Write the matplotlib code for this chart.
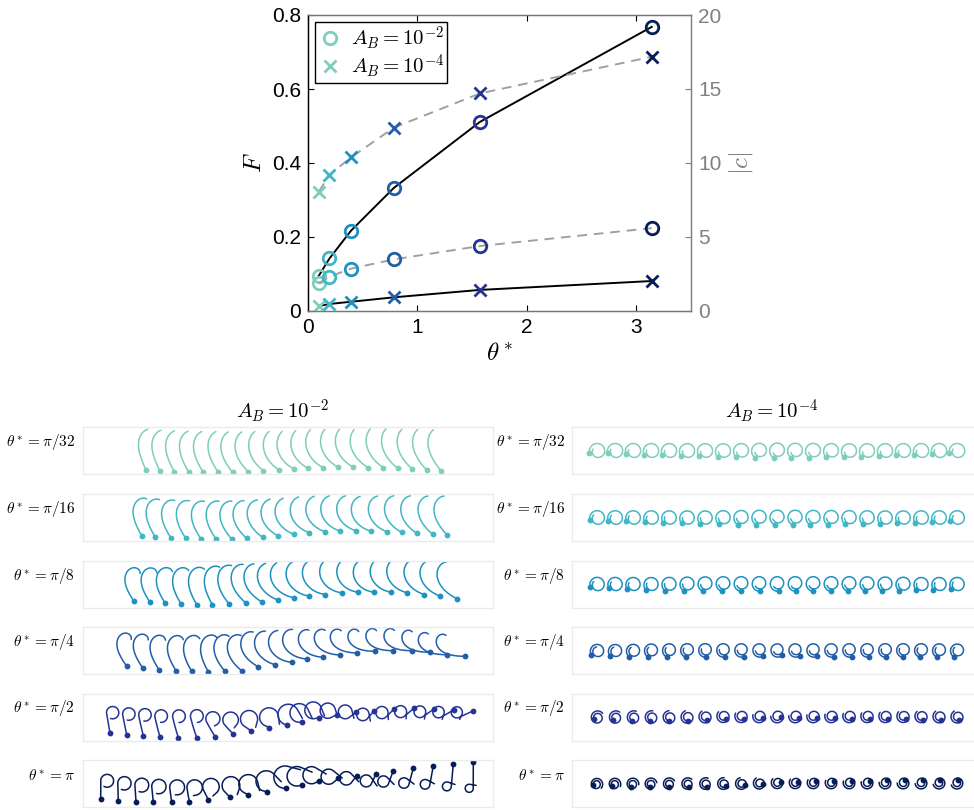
import numpy as np
import matplotlib
matplotlib.use('Agg')
import matplotlib.pyplot as plt
from matplotlib.lines import Line2D

plt.rcParams['mathtext.fontset'] = 'cm'
plt.rcParams['font.family'] = ['Liberation Sans', 'DejaVu Sans']

# ---------------- data: top plot ----------------
theta_star = [np.pi/32, np.pi/16, np.pi/8, np.pi/4, np.pi/2, np.pi]
theta_labels = [r'$\theta^* = \pi/32$', r'$\theta^* = \pi/16$', r'$\theta^* = \pi/8$',
                r'$\theta^* = \pi/4$', r'$\theta^* = \pi/2$', r'$\theta^* = \pi$']
F_AB2 = [0.095, 0.142, 0.217, 0.333, 0.511, 0.768]
c_AB2 = [1.87, 2.32, 2.86, 3.49, 4.39, 5.60]
F_AB4 = [0.0135, 0.019, 0.025, 0.037, 0.057, 0.081]
c_AB4 = [8.06, 9.19, 10.38, 12.39, 14.70, 17.18]
row_colors = ['#7fcdbb', '#41b6c4', '#1d91c0', '#225ea8', '#253494', '#081d58']
legend_labels = [r'$A_B = 10^{-2}$', r'$A_B = 10^{-4}$']

# ---------------- data: filament snapshots (A_B = 1e-2) ----------------
snap_x_AB2 = [
    [146, 160, 174.3, 188.7, 203.3, 218.3, 232.7, 248.3, 263.3, 279.3, 294.3, 308.3, 323.3, 338.3, 353.3, 368.3, 383.3, 397.7, 412.3, 426.7, 441],
    [141.7, 155, 170.7, 185.7, 201, 216, 231.7, 246.7, 262.7, 278.3, 294, 309.3, 325, 340, 356, 370.7, 386.7, 401.7, 416.7, 432.7, 447.3],
    [134, 150, 165, 181, 196.7, 212.3, 229, 245.7, 261.7, 278.3, 294.3, 309.3, 325, 341.7, 358.3, 374.3, 391, 407.3, 424.3, 440, 456.7],
    [126.7, 142.7, 159, 176, 191.7, 208.3, 225, 241.7, 258.3, 275, 291.7, 306.7, 323.3, 340, 356.7, 375, 393.3, 411.7, 430, 446.7, 465],
    [110, 126.7, 143.3, 160, 178.3, 196.7, 215, 233.3, 251, 269.3, 286.5, 301.7, 319.3, 336.7, 356, 374.3, 394.3, 414, 434.3, 454, 473.3],
    [100.7, 118.3, 136, 153.3, 171.7, 189.3, 208.3, 230, 248.3, 266.7, 286, 301.7, 319.3, 338.3, 356.7, 376, 393.3, 413.3, 433.3, 453.3, 473.3],
]
snap_y_AB2 = [
    [4, 3, 2.3, 2, 1.7, 1.7, 1.7, 2.3, 3.3, 4, 5, 5.7, 6.3, 6.7, 6.7, 6.3, 6.3, 5.7, 4.7, 4, 3.3],
    [5.3, 4.3, 3.3, 2.7, 2, 2, 2, 2.7, 3.7, 5, 6.7, 8.3, 9.3, 10, 10.3, 10, 9.3, 8.7, 7.7, 6.7, 6],
    [6.3, 5.3, 4.7, 3.7, 3, 3, 3.7, 4.7, 5.7, 7.3, 9.7, 11.3, 13, 14.7, 15.3, 15.3, 15.3, 14.7, 13, 11.3, 9],
    [7.7, 6, 4.3, 3.3, 2.7, 2.3, 2.7, 3.3, 7.3, 9.3, 11.7, 15, 16.7, 19, 21, 22.7, 23.3, 23.3, 21.7, 19.3, 17.7],
    [7.3, 5.7, 4.7, 3.3, 3, 3, 4, 6.3, 9.7, 13, 15.7, 18.3, 23, 25.7, 28.3, 30, 31.7, 32.3, 31.7, 30.7, 29.7],
    [8, 6.3, 5.3, 4.7, 4.7, 5.3, 7.3, 9.7, 12, 15.3, 18.7, 22, 26.3, 28.7, 31.3, 33, 36.3, 38.7, 41.3, 43, 44.7],
]
# shape keyframes: (base tangent angle, uniform bend, curl [deg], curl start, curl end)
key_idx = [0, 5, 10, 15, 20]
shape_AB2 = [
    [(115, -15, -85, 0, 1), (125, -30, -70, 0, 1), (155, -80, -30, 0, 1), (150, -60, -40, 0, 1), (130, -30, -60, 0, 1)],
    [(120, -20, -125, 0, 1), (125, -30, -110, 0, 1), (160, -80, -60, 0, 1), (165, -90, -60, 0, 1), (135, -40, -90, 0, 1)],
    [(125, -30, -190, 0, 1), (120, -30, -120, 0, 1), (170, -80, -60, 0, 1), (175, -110, -60, 0, 1), (155, -60, -90, 0, 1)],
    [(125, -20, -210, 0, 1), (120, -30, -140, 0, 1), (175, -90, -80, 0, 1), (180, -40, -200, 0, 1), (180, -30, -190, 0, 1)],
    [(100, 0, -300, 0.38, 1), (110, -15, -270, 0.4, 1), (170, 0, -230, 0, 0.8), (230, 0, -310, 0.2, 0.85), (205, 0, -320, 0.3, 0.9)],
    [(90, 0, -300, 0.35, 1), (100, 0, -270, 0.25, 0.95), (185, 0, -200, 0, 0.75), (245, 0, -300, 0.2, 0.8), (270, 0, -280, 0.5, 0.88)],
]
curl_power = [3, 3, 3, 3, 1, 1]
fil_len_AB2 = [46, 48, 50, 50, 52, 52]

# ---------------- data: filament snapshots (A_B = 1e-4) ----------------
snap_x_AB4 = [25, 43, 61, 79, 97, 115, 133, 151, 169, 187, 205, 223, 241, 259, 277, 295, 313, 331, 349, 367, 385]
base_AB4 = [
    [100, 120, 150, 130, 100],
    [100, 130, 160, 140, 110],
    [110, 150, 190, 160, 120],
    [120, 170, 220, 190, 150],
    [120, 190, 260, 230, 200],
    [110, 200, 290, 320, 350],
]
# (uniform turn, extra turn, extra turn placed at the tip (1) or at the base (0))
turn_AB4 = [(-340, -60, 1), (-355, -60, 1), (-365, -60, 1), (-390, -80, 1), (-420, -110, 0), (-450, -150, 0)]
FIL_LEN_AB4 = 48


def filament(phi0, k1, k2, L, s0=0.0, s1=1.0, q=3.0, n=240):
    s = np.linspace(0, 1, n)
    u = np.clip((s - s0) / (s1 - s0), 0, 1)
    phi = np.deg2rad(phi0 + k1 * s + k2 * u ** q)
    ds = L / (n - 1)
    pm = 0.5 * (phi[1:] + phi[:-1])
    x = np.concatenate([[0], np.cumsum(np.cos(pm) * ds)])
    y = np.concatenate([[0], np.cumsum(np.sin(pm) * ds)])
    return x, y


def loop_filament(phi0, k1, k2, at_tip, L, n=240):
    s = np.linspace(0, 1, n)
    extra = s ** 3 if at_tip else 1 - (1 - s) ** 3
    phi = np.deg2rad(phi0 + k1 * s + k2 * extra)
    ds = L / (n - 1)
    pm = 0.5 * (phi[1:] + phi[:-1])
    x = np.concatenate([[0], np.cumsum(np.cos(pm) * ds)])
    y = np.concatenate([[0], np.cumsum(np.sin(pm) * ds)])
    return x, y


W, H = 974, 810
fig = plt.figure(figsize=(W / 100, H / 100), dpi=100)

# ---------------- top plot ----------------
ax = fig.add_axes([308 / W, 1 - 311 / H, (691 - 308) / W, (311 - 15) / H])
ax2 = ax.twinx()
ax.plot(theta_star, F_AB2, '-', color='k', lw=1.4, zorder=2)
ax.plot(theta_star, F_AB4, '-', color='k', lw=1.4, zorder=2)
for t, f2, f4, col in zip(theta_star, F_AB2, F_AB4, row_colors):
    ax.plot([t], [f2], 'o', ms=9, mfc='none', mec=col, mew=2.0, zorder=3)
    ax.plot([t], [f4], 'x', ms=8, mec=col, mew=2.0, zorder=3)
ax2.plot(theta_star, c_AB2, '--', color='#a0a0a0', lw=1.4, dashes=(5, 3.5), zorder=2)
ax2.plot(theta_star, c_AB4, '--', color='#a0a0a0', lw=1.4, dashes=(5, 3.5), zorder=2)
for t, c2, c4, col in zip(theta_star, c_AB2, c_AB4, row_colors):
    ax2.plot([t], [c2], 'o', ms=9, mfc='none', mec=col, mew=2.0, zorder=3)
    ax2.plot([t], [c4], 'x', ms=8, mec=col, mew=2.0, zorder=3)

ax.set_xlim(0, 3.5)
ax.set_ylim(0, 0.8)
ax2.set_ylim(0, 20)
ax.set_xticks([0, 1, 2, 3])
ax.set_xticklabels(['0', '1', '2', '3'])
ax.set_yticks([0, 0.2, 0.4, 0.6, 0.8])
ax.set_yticklabels(['0', '0.2', '0.4', '0.6', '0.8'])
ax2.set_yticks([0, 5, 10, 15, 20])
ax2.set_yticklabels(['0', '5', '10', '15', '20'])
ax.tick_params(axis='both', direction='in', length=4, width=0.8, labelsize=15, top=True, pad=5)
ax.tick_params(axis='x', colors='k')
ax2.tick_params(axis='y', direction='in', length=4, width=0.8, labelsize=15, colors='#808080', pad=5)
for a in (ax, ax2):
    a.spines['top'].set_color('#777777')
    a.spines['bottom'].set_color('#777777')
    a.spines['left'].set_color('k')
    a.spines['right'].set_color('#808080')
    for sp in a.spines.values():
        sp.set_linewidth(0.9)
ax.set_xlabel(r'$\theta^*$', fontsize=18, labelpad=3)
ax.set_ylabel(r'$F$', fontsize=18, labelpad=4)
ax2.set_ylabel(r'$|c|$', fontsize=18, color='#808080', labelpad=4)

handles = [Line2D([], [], ls='none', marker='o', ms=9, mfc='none', mec=row_colors[0], mew=2.0),
           Line2D([], [], ls='none', marker='x', ms=8, mec=row_colors[0], mew=2.0)]
leg = ax2.legend(handles, legend_labels, loc='upper left', bbox_to_anchor=(0.018, 0.976),
                 borderaxespad=0, fontsize=15, fancybox=False, framealpha=1,
                 edgecolor='k', handletextpad=0.4, borderpad=0.12, labelspacing=0.0,
                 handlelength=1.2)
leg.get_frame().set_linewidth(1.0)

# ---------------- filament panels ----------------
box_tops = [427, 494, 560.5, 627, 693.5, 760]
BOX_H = 47
LEFT_X, LEFT_W = 83, 410
RIGHT_X, RIGHT_W = 572, 404


def make_panel(x0, top, w, h):
    a = fig.add_axes([x0 / W, 1 - (top + h) / H, w / W, h / H])
    a.set_xlim(0, w)
    a.set_ylim(0, h)
    a.set_xticks([])
    a.set_yticks([])
    for sp in a.spines.values():
        sp.set_color('#ebebeb')
        sp.set_linewidth(1.0)
    return a


fig.text(283 / W, 1 - 411 / H, legend_labels[0], ha='center', va='center', fontsize=15)
fig.text(772 / W, 1 - 411 / H, legend_labels[1], ha='center', va='center', fontsize=15)

for r in range(6):
    col = row_colors[r]
    top = box_tops[r]
    # left column
    pa = make_panel(LEFT_X, top, LEFT_W, BOX_H)
    kf = np.array(shape_AB2[r], dtype=float)
    for i in range(21):
        p = [np.interp(i, key_idx, kf[:, j]) for j in range(5)]
        x, y = filament(p[0], p[1], p[2], fil_len_AB2[r], s0=p[3], s1=p[4], q=curl_power[r])
        bx = snap_x_AB2[r][i] - LEFT_X
        by = snap_y_AB2[r][i]
        pa.plot(x + bx, y + by, '-', color=col, lw=1.1, solid_capstyle='round')
        pa.plot([bx], [by], 'o', color=col, ms=4.2, mew=0)
    fig.text(75 / W, 1 - (top + 15) / H, theta_labels[r], ha='right', va='center', fontsize=11)

    # right column
    pb = make_panel(RIGHT_X, top, RIGHT_W, BOX_H)
    k1, k2, at_tip = turn_AB4[r]
    for i in range(21):
        p0 = np.interp(i, key_idx, base_AB4[r])
        x, y = loop_filament(p0, k1, k2, at_tip, FIL_LEN_AB4)
        cx = 0.5 * (x.min() + x.max())
        cy = 0.5 * (y.min() + y.max())
        ox = snap_x_AB4[i] - cx
        oy = BOX_H / 2 - cy
        pb.plot(x + ox, y + oy, '-', color=col, lw=1.1, solid_capstyle='round')
        pb.plot([ox], [oy], 'o', color=col, ms=4.2, mew=0)
    fig.text(565 / W, 1 - (top + 15) / H, theta_labels[r], ha='right', va='center', fontsize=11)

fig.savefig('out.png', dpi=100)
